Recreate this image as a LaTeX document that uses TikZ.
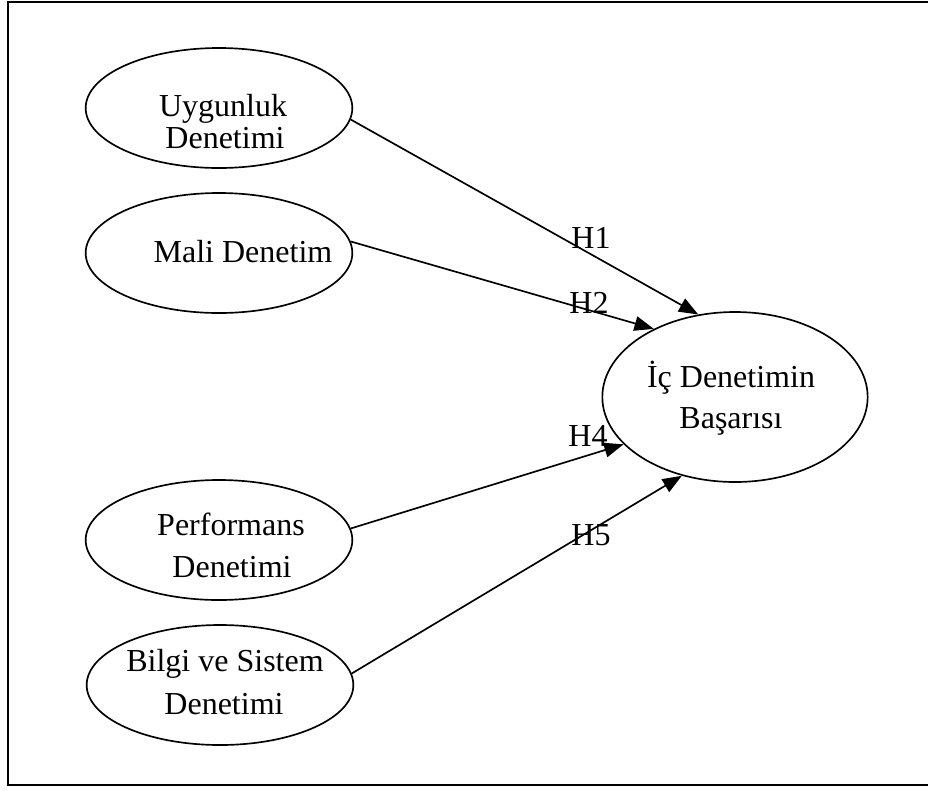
\documentclass[tikz,border=0pt]{standalone}
\usepackage{fontspec}
\setmainfont{Liberation Serif}
\usetikzlibrary{shapes.geometric,arrows.meta}
\begin{document}
\begin{tikzpicture}[x=0.75pt,y=-0.75pt,
  ell/.style={ellipse, draw, line width=1.25pt, inner sep=0pt, minimum width=200pt, minimum height=90pt},
  bigell/.style={ellipse, draw, line width=1.25pt, inner sep=0pt, minimum width=199pt, minimum height=127.5pt},
  txt/.style={anchor=base, inner sep=0pt, font=\fontsize{24pt}{28pt}\selectfont},
  conn/.style={line width=1.25pt, -{Triangle[length=14.5pt,width=11pt]}}]
\useasboundingbox (0,0) rectangle (928,790);
\draw[line width=1.4pt] (8,2) rectangle (945,785);
% ellipses
\node[ell] (u) at (219,108) {};
\node[ell] (m) at (219,253) {};
\node[ell] (p) at (219,540) {};
\node[ell] (b) at (220,685) {};
\node[bigell] (t) at (735,397) {};
% texts
\node[txt] (u1) at (223,116) {Uygunluk};
\node[txt] (u2) at (225,148) {Denetimi};
\node[txt] (m1) at (243,262) {Mali Denetim};
\node[txt] (p1) at (231,535) {Performans};
\node[txt] (p2) at (232,577) {Denetimi};
\node[txt] (b1) at (225,671) {Bilgi ve Sistem};
\node[txt] (b2) at (224,714) {Denetimi};
\node[txt] (t1) at (731,387) {İç Denetimin};
\node[txt] (t2) at (731,428) {Başarısı};
% connectors
\draw[conn] (u.-5) -- (t.114);
\draw[conn] (m.5) -- (t.140);
\draw[conn] (p.5) -- (t.203);
\draw[conn] (b.5) -- (t.236);
% labels
\node[txt] (h1) at (591,248) {H1};
\node[txt] (h2) at (589,313) {H2};
\node[txt] (h4) at (588,446) {H4};
\node[txt] (h5) at (591,545) {H5};
\end{tikzpicture}
\end{document}
